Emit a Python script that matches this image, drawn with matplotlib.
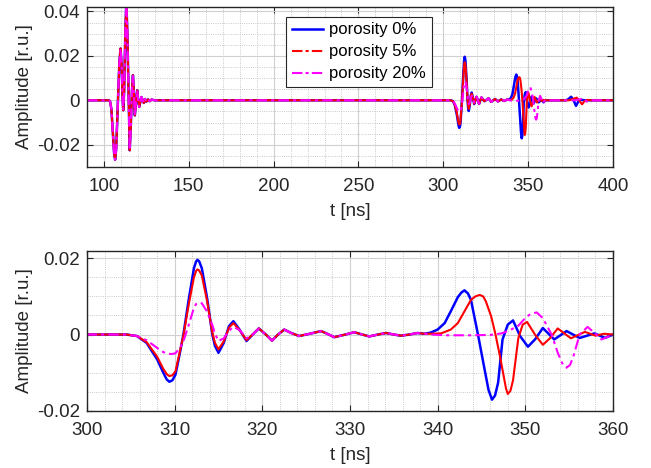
import numpy as np
import matplotlib
matplotlib.use("Agg")
from matplotlib import pyplot as plt
from matplotlib.lines import Line2D
from matplotlib.ticker import MultipleLocator

plt.rcParams['font.family'] = ['Liberation Sans', 'DejaVu Sans']

# ---- data (t in ns, amplitude in r.u.) ----
# quiet part + direct wave, the same for all three porosities
t_direct = [90, 103.0, 103.6, 104.4, 105.2, 106.0, 106.6, 107.2, 107.8, 108.4, 109.1,
            109.8, 110.4, 111.0, 111.4, 111.9, 112.6, 113.2, 113.8, 114.5, 115.2,
            115.8, 116.5, 117.1, 117.7, 118.2, 118.9, 119.6, 120.2, 120.8, 121.5,
            122.1, 122.8, 123.5, 124.2, 125.0, 126.0, 127.0, 128.0, 130.0, 304.5]
a_direct = [0, 0, -0.0005, -0.004, -0.014, -0.024, -0.0267, -0.022, -0.010, 0.003, 0.017,
            0.0233, 0.016, 0.001, -0.0045, 0.004, 0.030, 0.045, 0.030, 0.004, -0.0225,
            -0.012, 0.004, 0.0113, 0.003, -0.0068, -0.001, 0.0045, 0.0, -0.003, -0.0005,
            0.0015, 0.0, -0.0012, 0.0006, -0.0006, 0.0004, -0.0004, 0.0003, 0.0, 0.0]

# first reflection (~310 ns)
t_ref1 = [305.7, 306.8, 308.0, 308.7, 309.1, 309.4, 309.75, 310.1, 310.6, 311.0, 311.6,
          312.2, 312.45, 312.6, 312.8, 313.1, 313.7, 314.3, 314.6, 315.0, 315.6, 316.2,
          316.7, 317.4, 318.2]
a_ref1_p0 = [-0.0004, -0.0022, -0.0065, -0.0100, -0.0118, -0.0124, -0.0120, -0.0105,
             -0.0048, 0.0, 0.0091, 0.0174, 0.0192, 0.0196, 0.0192, 0.0174, 0.0096, 0.0,
             -0.0030, -0.0048, -0.0022, 0.0022, 0.0035, 0.0013, -0.0017]
a_ref1_p5 = [-0.0004, -0.0020, -0.0058, -0.0090, -0.0104, -0.0109, -0.0107, -0.0096,
             -0.0045, -0.0003, 0.0078, 0.0150, 0.0167, 0.0171, 0.0168, 0.0155, 0.0088,
             0.0005, -0.0022, -0.0039, -0.0018, 0.0018, 0.0030, 0.0012, -0.0015]
a_ref1_p20 = [-0.0004, -0.0015, -0.0035, -0.0046, -0.0050, -0.0051, -0.0051, -0.0049,
              -0.0035, -0.0018, 0.0025, 0.0070, 0.0080, 0.0083, 0.0084, 0.0082, 0.0060,
              0.0025, 0.0002, -0.0017, -0.0010, 0.0010, 0.0020, 0.0012, -0.0010]

# ringing after the first reflection (common)
t_ring = [318.9, 319.6, 320.4, 321.1, 321.8, 322.5, 323.3, 324.2, 325.4, 326.7, 327.5,
          328.2, 329.3, 330.5, 331.4, 332.2, 333.2, 334.1, 335.0, 335.8, 336.8, 337.7, 338.5]
a_ring = [0.0, 0.0016, 0.0, -0.0016, 0.0, 0.0013, 0.0004, -0.0004, 0.0002, 0.0009, 0.0001,
          -0.0007, -0.0001, 0.0006, 0.0, -0.0005, 0.0, 0.0004, 0.0, -0.0003, 0.0, 0.0004, 0.0002]

# second reflection (~345 ns) and late small arrival (~378 ns)
t_ref2_p0 = [339.2, 340.0, 340.8, 341.5, 342.3, 342.7, 343.06, 343.45, 343.8, 344.6, 345.35,
             345.8, 346.2, 346.55, 346.9, 347.4, 348.0, 348.6, 349.4, 350.3, 351.1, 352.0,
             353.3, 354.7, 356.2, 357.9, 359.1, 360.0, 372.0, 373.5, 375.3, 376.6, 378.2,
             379.6, 381.0, 383.0, 400.0]
a_ref2_p0 = [0.0005, 0.0013, 0.0030, 0.0061, 0.0098, 0.0110, 0.0116, 0.0108, 0.0091, 0.0,
             -0.0091, -0.0145, -0.0171, -0.0160, -0.0126, -0.0013, 0.0026, 0.0037, -0.0004,
             -0.0032, -0.0013, 0.0017, -0.0013, 0.0009, -0.0009, 0.0003, -0.0009, 0.0, 0.0,
             0.0004, 0.0016, 0.0004, -0.0025, -0.0005, 0.0003, 0.0, 0.0]

t_ref2_p5 = [339.2, 340.4, 341.5, 342.3, 343.06, 343.8, 344.3, 344.8, 345.2, 345.5, 346.1,
             346.6, 347.1, 347.6, 347.8, 348.0, 348.3, 348.6, 349.2, 349.7, 350.2, 351.1,
             352.0, 352.8, 353.7, 355.2, 356.8, 358.0, 359.0, 360.0, 374.0, 376.5, 378.6,
             380.0, 381.8, 383.2, 385.0, 387.0, 400.0]
a_ref2_p5 = [0.0002, 0.0003, 0.0013, 0.0030, 0.0061, 0.0091, 0.0100, 0.0104, 0.0100, 0.0087,
             0.0048, 0.0, -0.0056, -0.0117, -0.0142, -0.0156, -0.0148, -0.0120, -0.0010,
             0.0026, 0.0033, 0.0, -0.0027, -0.0010, 0.0016, -0.0010, 0.0007, -0.0003,
             0.0002, 0.0, 0.0, 0.0006, 0.0012, 0.0, -0.0018, -0.0004, 0.0002, 0.0, 0.0]

t_ref2_p20 = [339.2, 341.0, 344.0, 346.0, 347.3, 348.2, 349.2, 350.1, 350.7, 351.3, 352.0,
              353.0, 353.7, 354.3, 354.7, 355.1, 355.5, 356.2, 357.1, 357.9, 358.7, 360.0,
              377.0, 380.0, 382.5, 384.5, 386.5, 388.5, 400.0]
a_ref2_p20 = [0.0, -0.0002, -0.0002, -0.0001, 0.0003, 0.0011, 0.0023, 0.0046, 0.0055, 0.0058,
              0.0043, 0.0, -0.0048, -0.0080, -0.0087, -0.0080, -0.0056, 0.0, 0.0020, 0.0004,
              -0.0013, 0.0, 0.0, 0.0004, 0.0008, -0.0006, -0.0004, 0.0, 0.0]

labels = ['porosity 0%', 'porosity 5%', 'porosity 20%']

top_xticks = [100, 150, 200, 250, 300, 350, 400]
top_yticks = [-0.02, 0, 0.02, 0.04]
top_ylabels = ['-0.02', '0', '0.02', '0.04']
bot_xticks = [300, 310, 320, 330, 340, 350, 360]
bot_yticks = [-0.02, 0, 0.02]
bot_ylabels = ['-0.02', '0', '0.02']


def series(ref1, t_ref2, a_ref2):
    t = np.concatenate([t_direct, t_ref1, t_ring, t_ref2])
    a = np.concatenate([a_direct, ref1, a_ring, a_ref2])
    return t, a


t0, s0 = series(a_ref1_p0, t_ref2_p0, a_ref2_p0)
t5, s5 = series(a_ref1_p5, t_ref2_p5, a_ref2_p5)
t20, s20 = series(a_ref1_p20, t_ref2_p20, a_ref2_p20)

fig = plt.figure(figsize=(6.51, 4.68), dpi=100)
ax1 = fig.add_axes([0.1336, 0.6432, 0.808, 0.3419])
ax2 = fig.add_axes([0.1336, 0.1224, 0.808, 0.3419])

dark = '#262626'
fs = 13.5
for ax in (ax1, ax2):
    ax.plot(t0, s0, color='#0000ff', lw=1.8, solid_joinstyle='round')
    ax.plot(t5, s5, color='#ff0000', lw=1.5, solid_joinstyle='round')
    ax.plot(t20, s20, color='#ff00ff', lw=1.5, dashes=(5, 2, 1.5, 2))
    ax.grid(True, which='major', color='#d0d0d0', lw=0.8, ls='-')
    ax.grid(True, which='minor', color='#b8b8b8', lw=0.6, ls=':')
    ax.set_axisbelow(True)
    ax.tick_params(which='major', direction='in', top=True, right=True, length=4,
                   width=0.8, colors=dark, labelsize=fs)
    ax.tick_params(axis='x', which='major', pad=8)
    ax.tick_params(axis='y', which='major', pad=5)
    ax.tick_params(which='minor', length=0)
    for sp in ax.spines.values():
        sp.set_color(dark)
        sp.set_linewidth(1.0)
    ax.set_xlabel('t [ns]', fontsize=fs, color=dark, labelpad=6)
    ax.set_ylabel('Amplitude [r.u.]', fontsize=fs, color=dark, labelpad=3)

ax1.set_xlim(90, 400)
ax1.set_ylim(-0.03, 0.042)
ax1.set_xticks(top_xticks)
ax1.set_yticks(top_yticks)
ax1.set_yticklabels(top_ylabels)
ax1.xaxis.set_minor_locator(MultipleLocator(10))
ax1.yaxis.set_minor_locator(MultipleLocator(0.005))

ax2.set_xlim(300, 360)
ax2.set_ylim(-0.02, 0.022)
ax2.set_xticks(bot_xticks)
ax2.set_yticks(bot_yticks)
ax2.set_yticklabels(bot_ylabels)
ax2.xaxis.set_minor_locator(MultipleLocator(2))
ax2.yaxis.set_minor_locator(MultipleLocator(0.005))

handles = [Line2D([], [], color='#0000ff', lw=1.8),
           Line2D([], [], color='#ff0000', lw=1.5, dashes=(5, 1.5, 1.5, 1.5)),
           Line2D([], [], color='#ff00ff', lw=1.5, dashes=(5, 1.5, 1.5, 1.5))]
leg = ax1.legend(handles, labels, loc='upper left', bbox_to_anchor=(0.378, 0.94),
                 fontsize=12, fancybox=False, framealpha=1, edgecolor=dark,
                 borderpad=0.35, labelspacing=0.42, handlelength=1.9, handletextpad=0.35,
                 borderaxespad=0)
leg.get_frame().set_linewidth(0.8)

fig.savefig('out.png', dpi=100)
